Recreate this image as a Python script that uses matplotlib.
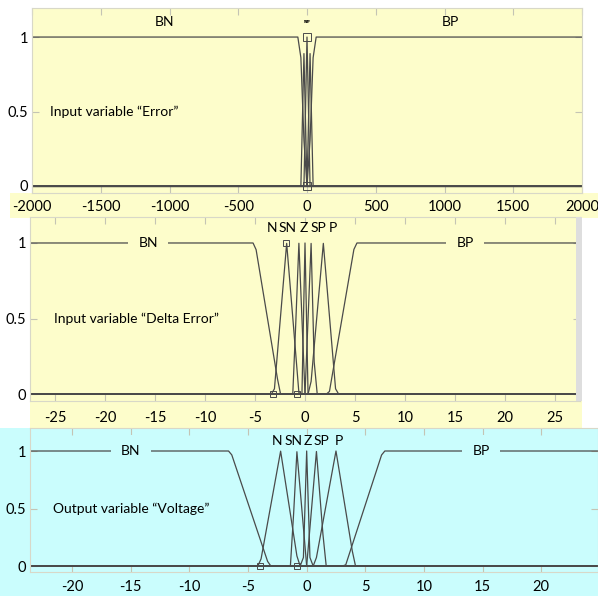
import numpy as np
import matplotlib
matplotlib.use('Agg')
import matplotlib.pyplot as plt
from matplotlib.patches import Rectangle

plt.rcParams['font.family'] = ['Lato', 'DejaVu Sans']

W, H = 598, 596
YELLOW = '#fdfdcb'
CYAN = '#cafdfd'
LINE = '#4a4a4a'
TICK = '#c4c4b4'

labels = ['BN', 'N', 'SN', 'Z', 'SP', 'P', 'BP']

# membership functions: breakpoints and grades (np.interp holds ends flat)
err_range = [-2000, 2000]
err_xp = [[-50, -10], [-40, -20, 0], [-20, -10, 0], [-10, 0, 10],
          [0, 10, 20], [0, 20, 40], [10, 50]]
err_fp = [[1, 0], [0, 1, 0], [0, 1, 0], [0, 1, 0], [0, 1, 0], [0, 1, 0], [0, 1]]
err_ticks = [-2000, -1500, -1000, -500, 0, 500, 1000, 1500, 2000]

de_range = [-27.5, 27.5]
de_xp = [[-5, -2.5], [-3.1, -1.83, -0.6], [-1.2, -0.61, 0], [-0.3, 0, 0.3],
         [0, 0.61, 1.0], [0.5, 1.83, 3.1], [2.4, 5]]
de_fp = err_fp
de_ticks = [-25, -20, -15, -10, -5, 0, 5, 10, 15, 20, 25]

v_range = [-25, 25]
v_xp = [[-6.5, -3.2], [-4.0, -2.22, -0.7], [-1.35, -0.83, 0], [-0.3, 0, 0.3],
        [0, 0.83, 1.6], [0.7, 2.5, 4.1], [3.3, 6.5]]
v_fp = err_fp
v_xlim = [-23.6, 24.85]
v_ticks = [-20, -15, -10, -5, 0, 5, 10, 15, 20]

fig = plt.figure(figsize=(W / 100, H / 100), dpi=100)


def px_axes(x0, y0, x1, y1):
    return fig.add_axes([x0 / W, 1 - y1 / H, (x1 - x0) / W, (y1 - y0) / H])


def px_rect(x0, y0, x1, y1, color, z=-1):
    fig.add_artist(Rectangle((x0 / W, 1 - y1 / H), (x1 - x0) / W, (y1 - y0) / H,
                             transform=fig.transFigure, facecolor=color,
                             edgecolor='none', zorder=z))


def draw_panel(ax, rng, xps, fps, ticks, xlim, ylim, bg, pad):
    x = np.linspace(rng[0], rng[1], 181)
    for xp, fp in zip(xps, fps):
        ax.plot(x, np.interp(x, xp, fp), color=LINE, lw=0.9)
    ax.set_facecolor(bg)
    ax.set_xlim(*xlim)
    ax.set_ylim(*ylim)
    ax.set_xticks(ticks)
    ax.set_xticklabels([str(t) for t in ticks])
    ax.set_yticks([0, 0.5, 1])
    ax.set_yticklabels(['0', '0.5', '1'])
    ax.tick_params(axis='both', direction='in', length=5, color=TICK,
                   top=True, right=True, labelsize=10.5)
    ax.tick_params(axis='x', pad=pad)
    ax.tick_params(axis='y', pad=3)
    for s in ax.spines.values():
        s.set_color('#d8d8c8')
        s.set_linewidth(0.8)


# backgrounds outside axes
px_rect(10, 193, 598, 218, YELLOW)
px_rect(30, 401, 582, 428, YELLOW)
px_rect(0, 428, 598, 596, CYAN)

# panel 1: Error
ax1 = px_axes(32, 8, 582, 193)
draw_panel(ax1, err_range, err_xp, err_fp, err_ticks, (-2000, 2000),
           (-0.047, 1.195), YELLOW, 5)
ax1.text(-1033, 1.1, 'BN', ha='center', va='center', fontsize=10)
ax1.text(1040, 1.1, 'BP', ha='center', va='center', fontsize=10)
for lab, off in zip(labels[1:6], [-14, -7, 0, 7, 14]):
    ax1.text(off, 1.1, lab, ha='center', va='center', fontsize=2.5)
ax1.plot([0, 0], [1, 0], 's', ms=6, mfc='none', mec=LINE, mew=0.7)
ax1.text(-1870, 0.5, 'Input variable \u201cError\u201d', va='center', fontsize=10)

# panel 2: Delta Error
ax2 = px_axes(30, 217, 580, 401)
draw_panel(ax2, de_range, de_xp, de_fp, de_ticks, (-27.5, 27.5),
           (-0.046, 1.172), YELLOW, 7)
for lab, xpos in zip(['BN', 'BP'], [-15.7, 16]):
    ax2.text(xpos, 1.0, lab, ha='center', va='center', fontsize=10,
             bbox=dict(boxstyle='square,pad=0.75', fc=YELLOW, ec='none'))
for lab, xpos in zip(labels[1:6], [-3.3, -1.7, -0.1, 1.3, 2.8]):
    ax2.text(xpos, 1.1, lab, ha='center', va='center', fontsize=10)
ax2.plot([-1.9], [1], 's', ms=4.5, mfc='none', mec=LINE, mew=0.7)
ax2.plot([-3.2, -0.8], [0, 0], 's', ms=4.5, mfc='none', mec=LINE, mew=0.7)
ax2.text(-25.1, 0.5, 'Input variable \u201cDelta Error\u201d', va='center', fontsize=10)
px_rect(576, 217, 582, 401, '#dedede', z=5)

# panel 3: Voltage
ax3 = px_axes(30, 428, 598, 572)
draw_panel(ax3, v_range, v_xp, v_fp, v_ticks, v_xlim,
           (-0.052, 1.2), CYAN, 6)
for lab, xpos in zip(['BN', 'BP'], [-15.0, 14.9]):
    ax3.text(xpos, 1.0, lab, ha='center', va='center', fontsize=10,
             bbox=dict(boxstyle='square,pad=0.75', fc=CYAN, ec='none'))
for lab, xpos in zip(labels[1:6], [-2.55, -1.1, 0.1, 1.3, 2.75]):
    ax3.text(xpos, 1.087, lab, ha='center', va='center', fontsize=10)
ax3.plot([-4.0, -0.85], [0, 0], 's', ms=4.5, mfc='none', mec=LINE, mew=0.7)
ax3.text(-21.6, 0.5, 'Output variable \u201cVoltage\u201d', va='center', fontsize=10)

fig.savefig('out.png', dpi=100, facecolor='white')
